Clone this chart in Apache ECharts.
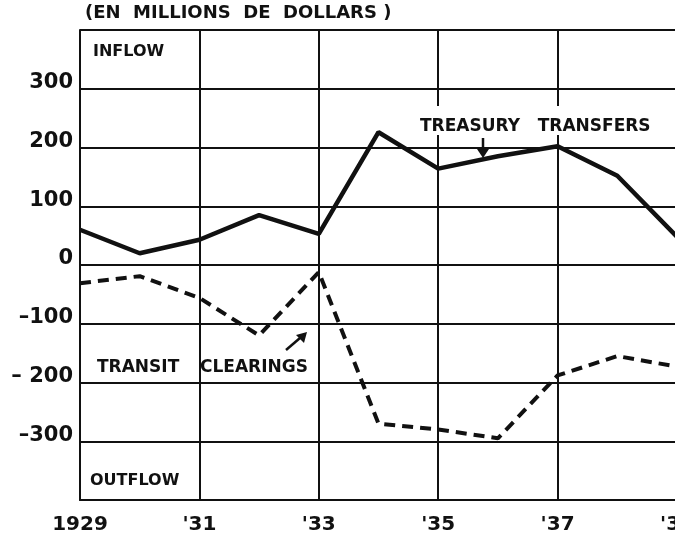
<!DOCTYPE html>
<html>
<head>
<meta charset="utf-8">
<script src="https://cdn.jsdelivr.net/npm/echarts@6/dist/echarts.min.js"></script>
<style>
  html, body { margin: 0; padding: 0; background: #fff; }
  #chart { width: 675px; height: 540px; }
</style>
</head>
<body>
<div id="chart"></div>
<script>
// years on the x axis
const years = [1929, 1930, 1931, 1932, 1933, 1934, 1935, 1936, 1937, 1938, 1939];
// millions of dollars, inflow positive / outflow negative
const treasuryTransfers = [60, 20, 43, 85, 53, 226, 164, 185, 202, 152, 48];
const transitClearings = [-31, -19, -56, -120, -12, -270, -280, -295, -188, -155, -173];
const yTicks = [-300, -200, -100, 0, 100, 200, 300];

const ink = '#111';
const font = 'DejaVu Sans';

const chart = echarts.init(document.getElementById('chart'));

function pairs(vals) {
  return years.map((y, i) => [y, vals[i]]);
}

chart.setOption({
  animation: false,
  backgroundColor: '#fff',
  grid: { left: 80, right: -2, top: 30, bottom: 40, outerBoundsMode: 'none' },
  xAxis: {
    type: 'value',
    min: 1929,
    max: 1939,
    interval: 2,
    axisLine: { show: true, onZero: false, lineStyle: { color: ink, width: 2 } },
    axisTick: { show: false },
    splitLine: { show: true, lineStyle: { color: ink, width: 2 } },
    axisLabel: {
      margin: 15,
      color: ink,
      fontFamily: font,
      fontWeight: 'bold',
      fontSize: 20,
      formatter: function (v) {
        return v === 1929 ? '1929' : "'" + String(v).slice(2);
      }
    }
  },
  yAxis: {
    type: 'value',
    min: -400,
    max: 400,
    interval: 100,
    axisLine: { show: true, lineStyle: { color: ink, width: 2 } },
    axisTick: { show: false },
    splitLine: { show: true, lineStyle: { color: ink, width: 2 } },
    axisLabel: {
      margin: 7,
      color: ink,
      fontFamily: font,
      fontWeight: 'bold',
      fontSize: 21,
      lineHeight: 12,
      verticalAlign: 'bottom',
      formatter: function (v) {
        if (yTicks.indexOf(v) < 0) return '';
        if (v === -200) return '– 200';
        if (v < 0) return '–' + Math.abs(v);
        return String(v);
      }
    }
  },
  series: [
    {
      name: 'Treasury transfers',
      type: 'line',
      data: pairs(treasuryTransfers),
      symbol: 'none',
      lineStyle: { color: ink, width: 4.5 },
      z: 5
    },
    {
      name: 'Transit clearings',
      type: 'line',
      data: pairs(transitClearings),
      symbol: 'none',
      lineStyle: { color: ink, width: 4, type: [11, 7] },
      z: 5
    }
  ],
  graphic: [
    {
      type: 'text', left: 85, top: 4,
      style: { text: '(EN  MILLIONS  DE  DOLLARS )', fill: ink, font: 'bold 18px ' + font }
    },
    {
      type: 'text', left: 93, top: 44,
      style: { text: 'INFLOW', fill: ink, font: 'bold 16px ' + font }
    },
    {
      type: 'text', left: 90, top: 473,
      style: { text: 'OUTFLOW', fill: ink, font: 'bold 16px ' + font }
    },
    {
      type: 'text', left: 418, top: 106, z: 10,
      style: {
        text: 'TREASURY   TRANSFERS', fill: ink, font: 'bold 17px ' + font,
        backgroundColor: '#fff', padding: [12, 2, 0, 2]
      }
    },
    {
      type: 'text', left: 97, top: 359,
      style: { text: 'TRANSIT', fill: ink, font: 'bold 17px ' + font }
    },
    {
      type: 'text', left: 200, top: 359,
      style: { text: 'CLEARINGS', fill: ink, font: 'bold 17px ' + font }
    },
    // arrow to treasury line
    {
      type: 'line', z: 10,
      shape: { x1: 483, y1: 138, x2: 483, y2: 152 },
      style: { stroke: ink, lineWidth: 2.5 }
    },
    {
      type: 'polygon', z: 10,
      shape: { points: [[477, 149], [489, 149], [483, 158]] },
      style: { fill: ink }
    },
    // arrow to transit line
    {
      type: 'line', z: 10,
      shape: { x1: 286, y1: 350, x2: 300, y2: 338 },
      style: { stroke: ink, lineWidth: 2.5 }
    },
    {
      type: 'polygon', z: 10,
      shape: { points: [[296, 335], [304, 343], [307, 332]] },
      style: { fill: ink }
    }
  ]
});

window.addEventListener('resize', function () {
  chart.resize();
});
</script>
</body>
</html>
